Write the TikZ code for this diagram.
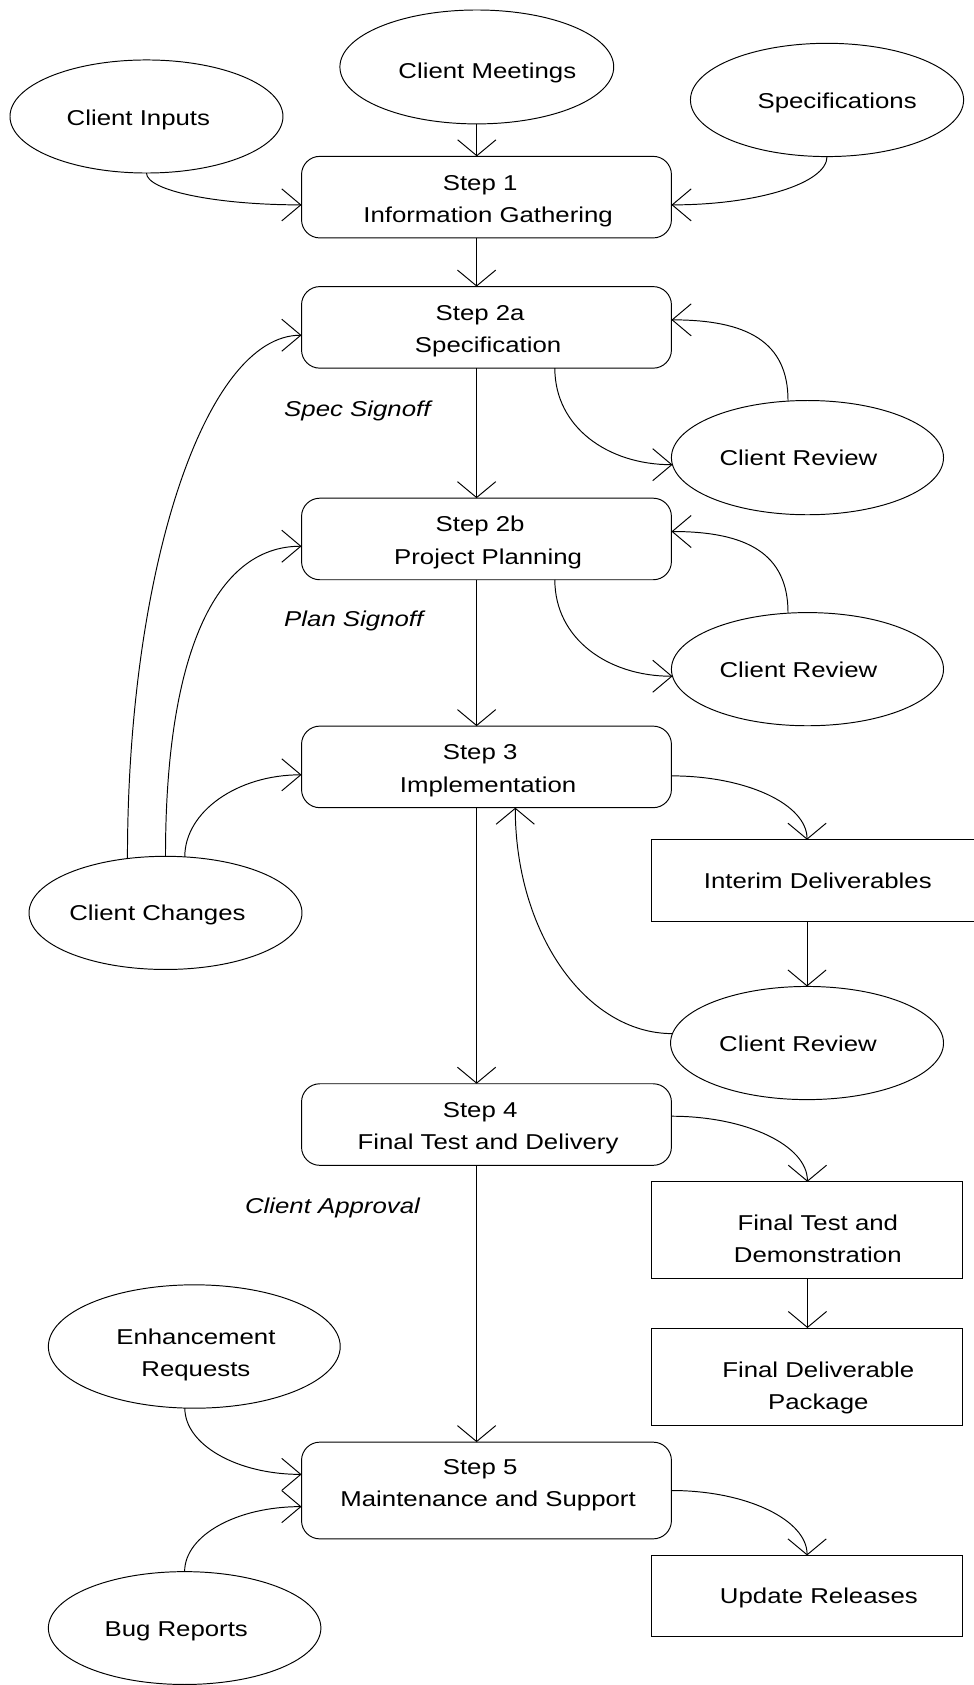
\documentclass[tikz,border=0pt]{standalone}
\usepackage{fontspec}
\setmainfont{Liberation Sans}[FakeStretch=1.2]
\usetikzlibrary{arrows.meta,shapes.geometric}
\newcommand\shtxt[2]{\makebox[0pt]{\kern#1\relax#2}}
\newcommand\twolines[2]{\begin{tabular}[t]{@{}c@{}}#1\\#2\end{tabular}}
\tikzset{
  every node/.style={inner sep=0pt, outer sep=0pt, font=\fontsize{20}{30}\selectfont},
  baseoff/.style={text height=#1, text depth=0pt},
  baseup/.style={text height=0pt, text depth=#1},
  stepbox/.style={draw, line width=0.9pt, rounded corners=17pt, minimum width=344.2pt, minimum height=75.9pt},
  oval/.style={draw, line width=0.9pt, ellipse},
  plainbox/.style={draw, line width=0.9pt, rectangle},
  signoff/.style={anchor=base west, font=\fontsize{20}{30}\selectfont\itshape},
  conn/.style={line width=0.9pt},
  varr/.style={conn, -{Straight Barb[length=14.8pt,width=35.6pt]}},
  harr/.style={conn, -{Straight Barb[length=17.7pt,width=29.8pt]}},
}
\begin{document}
\begin{tikzpicture}[x=1pt,y=-1pt]
\path[use as bounding box, fill=white] (0,0) rectangle (906.36,1568);
\coordinate (spine) at (443.5,0);

% step boxes
\node[stepbox, baseup=12.5pt] (s1) at (452.7,183.45) {\shtxt{3pt}{\twolines{Step 1\hspace*{14.8pt}}{Information Gathering}}};
\node[stepbox, baseup=13pt] (s2a) at (452.7,304.65) {\shtxt{3pt}{\twolines{Step 2a\hspace*{14.8pt}}{Specification}}};
\node[stepbox, baseup=13pt] (s2b) at (452.7,501.55) {\shtxt{3pt}{\twolines{Step 2b\hspace*{14.8pt}}{Project Planning}}};
\node[stepbox, baseup=13pt] (s3) at (452.7,713.65) {\shtxt{3pt}{\twolines{Step 3\hspace*{14.8pt}}{Implementation}}};
\node[stepbox, baseup=13pt] (s4) at (452.7,1046.45) {\shtxt{3pt}{\twolines{Step 4\hspace*{14.8pt}}{Final Test and Delivery}}};
\node[stepbox, minimum height=90pt, baseup=30pt] (s5) at (452.7,1387) {\shtxt{3pt}{\twolines{Step 5\hspace*{14.8pt}}{Maintenance and Support}}};

% ellipses
\node[oval, minimum width=254.8pt, minimum height=106pt, baseoff=21.2pt] (cm) at (443.7,62.3) {\shtxt{19.6pt}{Client Meetings}};
\node[oval, minimum width=254pt, minimum height=105.2pt, baseoff=17.6pt] (ci) at (136.3,108.4) {\shtxt{-15pt}{Client Inputs}};
\node[oval, minimum width=254.2pt, minimum height=105.4pt, baseoff=15.6pt] (sp) at (769.6,93) {\shtxt{18.8pt}{Specifications}};
\node[oval, minimum width=253.2pt, minimum height=106.3pt, baseoff=14.3pt] (cr1) at (751.4,425.85) {\shtxt{-16.8pt}{Client Review}};
\node[oval, minimum width=253.2pt, minimum height=105.3pt, baseoff=14.6pt] (cr2) at (751.4,622.7) {\shtxt{-16.8pt}{Client Review}};
\node[oval, minimum width=254pt, minimum height=105.3pt, baseoff=15.4pt] (cr3) at (751,970.6) {\shtxt{-16.8pt}{Client Review}};
\node[oval, minimum width=254pt, minimum height=105.3pt, baseoff=15pt] (cc) at (154,849.5) {\shtxt{-15pt}{Client Changes}};
\node[oval, minimum width=271.6pt, minimum height=114.8pt, baseup=4pt] (er) at (180.8,1253) {\shtxt{3pt}{\twolines{Enhancement}{Requests}}};
\node[oval, minimum width=253.6pt, minimum height=105pt, baseoff=16pt] (br) at (171.8,1515) {\shtxt{-15.6pt}{Bug Reports}};

% rectangles
\node[plainbox, minimum width=300.4pt, minimum height=76pt, baseoff=15.2pt] (id) at (756.8,819.4) {\shtxt{8.4pt}{Interim Deliverables}};
\node[plainbox, minimum width=289.3pt, minimum height=90.3pt, baseoff=0.3pt] (ftd) at (751.35,1144.85) {\shtxt{19.3pt}{\twolines{Final Test and}{Demonstration}}};
\node[plainbox, minimum width=288.8pt, minimum height=91pt, baseoff=1.4pt] (fdp) at (751.1,1281.3) {\shtxt{20.8pt}{\twolines{Final Deliverable}{Package}}};
\node[plainbox, minimum width=288.9pt, minimum height=75.6pt, baseoff=13.6pt] (ur) at (751.05,1485.2) {\shtxt{22pt}{Update Releases}};

% signoff labels
\node[signoff] (lspec) at (264.5,387.6) {Spec Signoff};
\node[signoff] (lplan) at (264.5,583) {Plan Signoff};
\node[signoff] (lappr) at (228,1129.6) {Client Approval};

% main spine
\draw[varr] (cm.south) -- (cm.south |- s1.north);
\draw[varr] (spine |- s1.south) -- (spine |- s2a.north);
\draw[varr] (spine |- s2a.south) -- (spine |- s2b.north);
\draw[varr] (spine |- s2b.south) -- (spine |- s3.north);
\draw[varr] (spine |- s3.south) -- (spine |- s4.north);
\draw[varr] (spine |- s4.south) -- (spine |- s5.north);

% inputs to step 1
\draw[harr] (ci.south) .. controls +(0,16.4) and +(-79.6,0) .. ([yshift=-7.2pt]s1.west);
\draw[harr] (sp.south) .. controls +(0,24.8) and +(79.9,0) .. ([yshift=-7.2pt]s1.east);

% review loops
\draw[harr] ([xshift=63.6pt]s2a.south) .. controls +(0,55) and +(-60,0) .. (cr1.183);
\draw[harr] ([xshift=-18.1pt]cr1.north) .. controls +(0,-55) and +(70,0) .. ([yshift=7pt]s2a.east);
\draw[harr] ([xshift=63.6pt]s2b.south) .. controls +(0,55) and +(-60,0) .. (cr2.183);
\draw[harr] ([xshift=-18.1pt]cr2.north) .. controls +(0,-55) and +(70,0) .. ([yshift=6.95pt]s2b.east);

% implementation loop
\draw[varr] ([yshift=-8.35pt]s3.east) .. controls +(70,0) and +(0,-32.8) .. ([xshift=-5.8pt]id.north);
\draw[varr] (cr3.north |- id.south) -- (cr3.north);
\draw[varr] (cr3.176) .. controls +(-80.6,0) and +(0,116.4) .. ([xshift=26.8pt]s3.south);

% client changes
\draw[harr] (cc.125.6) .. controls +(0,-267.7) and +(-89.9,0) .. ([yshift=-7.3pt]s2a.west);
\draw[harr] (cc.north) .. controls +(0,-186.85) and +(-80.6,0) .. ([yshift=-6.75pt]s2b.west);
\draw[harr] (cc.71) .. controls +(0,-42) and +(-60,0) .. ([yshift=-7.35pt]s3.west);

% delivery
\draw[varr] ([yshift=7.75pt]s4.east) .. controls +(69.9,0) and +(0,-33.7) .. (ftd.north);
\draw[varr] (ftd.south) -- (ftd.south |- fdp.north);

% maintenance
\draw[harr] ([xshift=-8.8pt]er.south) .. controls +(0,33.8) and +(-60.4,0) .. ([yshift=15pt]s5.west);
\draw[harr] (br.north) .. controls +(0,-33.7) and +(-60.4,0) .. ([yshift=-15pt]s5.west);
\draw[varr] (s5.east) .. controls +(70,0) and +(0,-33) .. (ur.north);
\end{tikzpicture}
\end{document}
